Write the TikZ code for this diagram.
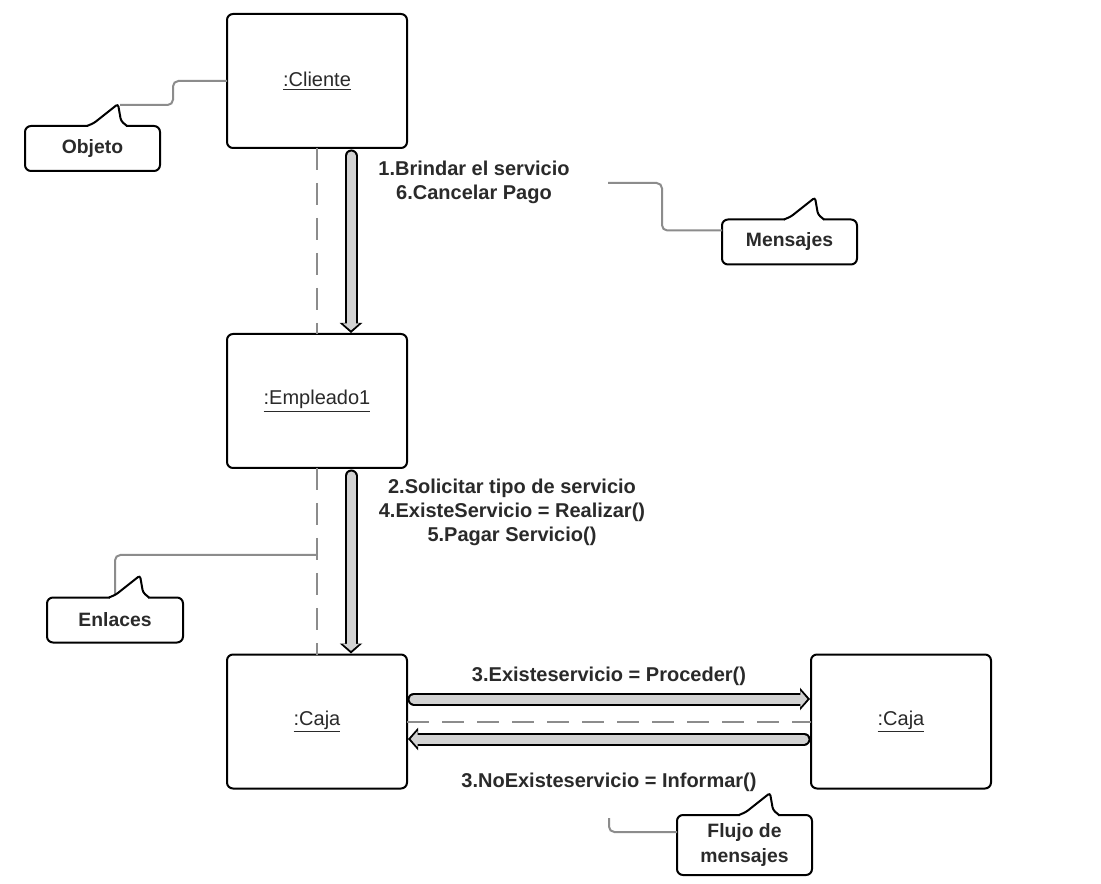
\documentclass[tikz,border=0pt]{standalone}
\usepackage{fontspec}
\setmainfont{Liberation Sans}
\usetikzlibrary{arrows.meta,calc}
\definecolor{txt}{HTML}{2A2A2A}
\definecolor{lnk}{HTML}{8C8C8C}
\definecolor{shaft}{HTML}{D2D2D2}
\tikzset{
  obj/.style={draw=black, line width=1.5pt, rounded corners=4.5pt, minimum width=135pt,
    minimum height=100.5pt, outer sep=0pt, inner sep=0pt, font=\fontsize{15}{18}\selectfont, text=txt},
  note/.style={draw=black, line width=1.5pt, rounded corners=4.5pt, minimum width=101.25pt,
    minimum height=33.75pt, outer sep=0pt, inner sep=0pt, font=\bfseries\fontsize{14.5}{18.5}\selectfont,
    text=txt, align=center, fill=white},
  lbl/.style={font=\bfseries\fontsize{15}{18}\selectfont, text=txt, align=center, inner sep=0pt},
  link/.style={draw=lnk, line width=1.5pt, dash pattern=on 16.5pt off 9.75pt},
  conn/.style={draw=lnk, line width=1.5pt, rounded corners=4pt},
  msgout/.style={draw=black, line width=9.75pt, line cap=round, -{Triangle[length=7.5pt,width=16.5pt]}},
  msgin/.style={draw=shaft, line width=6.75pt, line cap=round, shorten >=2pt, -{Triangle[length=5.25pt,width=12pt]}},
  tail/.style={fill=white, draw=black, line width=1.5pt, rounded corners=2pt},
}
\newcommand{\msgarrow}[2]{\draw[msgout] #1 -- #2; \draw[msgin] #1 -- #2;}
\newcommand{\notetail}[1]{%
  \fill[white] ($(#1.north west)+(63,-1.2)$) rectangle ($(#1.north west)+(101,1.6)$);
  \filldraw[tail] ($(#1.north west)+(62,0)$) -- ($(#1.north west)+(69,-3)$) -- ($(#1.north west)+(93,-22)$)
     -- ($(#1.north west)+(96,-5)$) -- ($(#1.north west)+(102,0)$);}
\begin{document}
\begin{tikzpicture}[x=0.75pt, y=-0.75pt]
  \useasboundingbox[fill=white] (0,0) rectangle (1101,884);

  % objects
  \node[obj] (cliente) at (317,81) {\underline{:Cliente}};
  \node[obj] (empleado) at (317,401) {\underline{:Empleado1}};
  \node[obj] (caja1) at (317,721.5) {\underline{:Caja}};
  \node[obj] (caja2) at (901,721.5) {\underline{:Caja}};

  % links
  \draw[link] (cliente) -- (empleado);
  \draw[link] (empleado) -- (caja1);
  \draw[link] (caja1) -- (caja2);

  % messages
  \msgarrow{($(cliente.south)+(34,8)$)}{($(empleado.north)+(34,-1)$)}
  \msgarrow{($(empleado.south)+(34,8)$)}{($(caja1.north)+(34,-1)$)}
  \msgarrow{($(caja1.east)+(7,-22.5)$)}{($(caja2.west)+(-1,-22.5)$)}
  \msgarrow{($(caja2.west)+(-7,17.5)$)}{($(caja1.east)+(1,17.5)$)}

  \node[lbl] (m1) at (474,182) {1.Brindar el servicio\\6.Cancelar Pago};
  \node[lbl] (m2) at (512,512) {2.Solicitar tipo de servicio\\4.ExisteServicio = Realizar()\\5.Pagar Servicio()};
  \node[lbl] (m3) at (609,676) {3.Existeservicio = Proceder()};
  \node[lbl] (m4) at (609,782) {3.NoExisteservicio = Informar()};

  % notes
  \node[note] (objeto) at (92.5,148.5) {Objeto};
  \node[note] (mensajes) at (789.5,242) {Mensajes};
  \node[note, minimum width=102pt] (enlaces) at (115,620) {Enlaces};
  \node[note, minimum height=45pt] (flujo) at (744.5,845) {Flujo de\\mensajes};

  \coordinate (objTip) at ($(objeto.north west)+(95,-21)$);
  \coordinate (msgEnd) at (608,183);
  \coordinate (enlTip) at ($(enlaces.north west)+(68,-3)$);
  \coordinate (enlEnd) at (317,555);
  \coordinate (flujoEnd) at (609,818);

  \draw[conn] (objTip) -- ++(53,0) |- (cliente.west);
  \draw[conn] (msgEnd) -- ++(54,0) |- ($(mensajes.north west)+(0,11)$);
  \draw[conn] (enlTip) |- (enlEnd);
  \draw[conn] ($(flujo.north west)+(0,17)$) -| (flujoEnd);

  \notetail{objeto}
  \notetail{mensajes}
  \notetail{enlaces}
  \notetail{flujo}
\end{tikzpicture}
\end{document}
